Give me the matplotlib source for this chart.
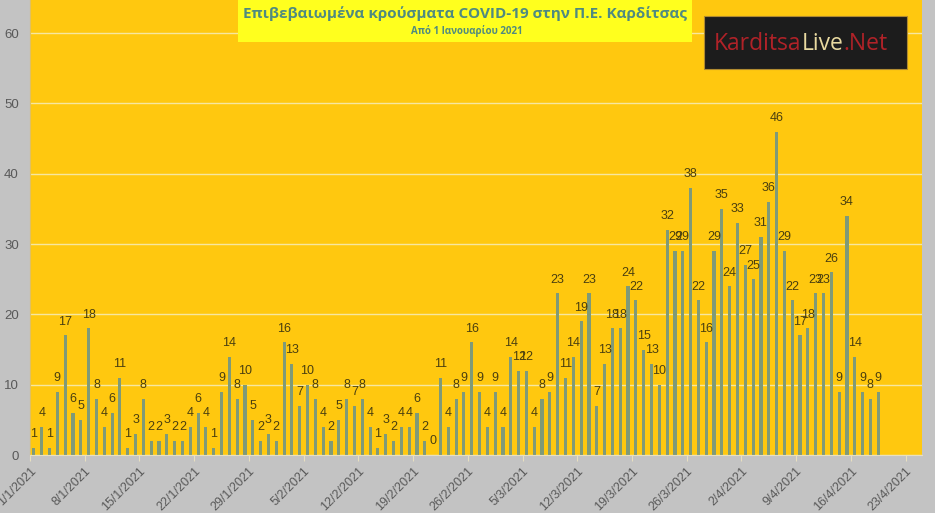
import numpy as np
import pandas as pd
import matplotlib
matplotlib.use("Agg")
import matplotlib.pyplot as plt
from matplotlib.patches import Rectangle
from matplotlib.text import Annotation
from matplotlib.transforms import ScaledTranslation

# daily confirmed cases from 1/1/2021
jan = [1, 4, 1, 9, 17, 6, 5, 18, 8, 4, 6, 11, 1, 3, 8, 2, 2, 3, 2, 2, 4, 6, 4, 1, 9, 14, 8, 10, 5, 2, 3]
feb = [2, 16, 13, 7, 10, 8, 4, 2, 5, 8, 7, 8, 4, 1, 3, 2, 4, 4, 6, 2, 0, 11, 4, 8, 9, 16, 9, 4]
mar = [9, 4, 14, 12, 12, 4, 8, 9, 23, 11, 14, 19, 23, 7, 13, 18, 18, 24, 22, 15, 13, 10, 32, 29, 29, 38, 22, 16, 29, 35, 24]
apr = [33, 27, 25, 31, 36, 46, 29, 22, 17, 18, 23, 23, 26, 9, 34, 14, 9, 8, 9]
cases = jan + feb + mar + apr

start = pd.Timestamp("2021-01-01")
tick_dates = pd.date_range("2021-01-01", "2021-04-23", freq="7D")
tick_labels = [f"{d.day}/{d.month}/{d.year}" for d in tick_dates]

title = "Επιβεβαιωμένα κρούσματα COVID-19 στην Π.Ε. Καρδίτσας"
subtitle = "Από 1 Ιανουαρίου 2021"

gray = "#c3c3c3"
yellow = "#ffc80f"
bar_col = "#7f9a78"
lab_col = "#4a3f10"
txt_col = "#595959"
font = "Liberation Sans"

fig = plt.figure(figsize=(9.35, 5.13), dpi=100, facecolor=gray)
ax = fig.add_axes([30 / 935, 58 / 513, 892 / 935, 455 / 513])
ax.set_facecolor(yellow)

x = np.arange(len(cases)) + 0.5
ax.bar(x, cases, width=0.4, color=bar_col, zorder=1)
for xi, v in zip(x, cases):
    ax.annotate(str(v), (xi, v), xytext=(0, 5.5), textcoords="offset points",
                ha="center", va="bottom", fontsize=9, color=lab_col,
                family=font, zorder=2)

ax.set_xlim(0, 114.1)
ax.set_ylim(0, 64.7)
tick_pos = [(d - start).days for d in tick_dates]
ax.set_xticks(tick_pos)
ax.set_xticklabels(tick_labels, rotation=45, ha="right", rotation_mode="anchor",
                   family=font)
for lbl in ax.get_xticklabels():
    lbl.set_transform(lbl.get_transform() + ScaledTranslation(5 / 100, -4 / 100, fig.dpi_scale_trans))
for lbl in ax.get_yticklabels():
    lbl.set_family(font)
ax.set_yticks(range(0, 61, 10))
ax.tick_params(axis="x", colors=txt_col, labelsize=9, length=4, color="#e8e0c0")
ax.tick_params(axis="y", colors=txt_col, labelsize=9.5, length=0, pad=8)
ax.set_axisbelow(True)
ax.grid(axis="y", color="#f6e7a0", linewidth=1)
for s in ["top", "right"]:
    ax.spines[s].set_visible(False)
ax.spines["left"].set_color("#e0c060")
ax.spines["bottom"].set_color("#e8e0c0")

# title box
fig.patches.append(Rectangle((238 / 935, 1 - 42 / 513), 454 / 935, 42 / 513,
                             transform=fig.transFigure, facecolor="#ffff1e",
                             edgecolor="none", zorder=3))
fig.text(465 / 935, 1 - 14 / 513, title, ha="center", va="center",
         fontsize=11, fontweight="bold", color="#4f8a80", family="Open Sans", zorder=4)
fig.text(467 / 935, 1 - 31 / 513, subtitle, ha="center", va="center",
         fontsize=7, fontweight="bold", color="#4f8a80", family="Open Sans", zorder=4)

# logo
fig.patches.append(Rectangle((704 / 935, 1 - 69 / 513), 203 / 935, 53 / 513,
                             transform=fig.transFigure, facecolor="#1c1c1c",
                             edgecolor="#b08a30", linewidth=0.8, zorder=3))
t1 = fig.text(714 / 935, 1 - 50 / 513, "Karditsa", ha="left", va="baseline",
              fontsize=16.5, color="#b02228", family="Open Sans", zorder=4)
t2 = fig.add_artist(Annotation("Live", xy=(1, 0), xycoords=t1, ha="left", va="bottom",
                               fontsize=16.5, color="#e8d9a0", family="Open Sans",
                               zorder=4))
t3 = fig.add_artist(Annotation(".Net", xy=(1, 0), xycoords=t2, ha="left", va="bottom",
                               fontsize=16.5, color="#b02228", family="Open Sans",
                               zorder=4))

fig.savefig("out.png", dpi=100, facecolor=gray)
